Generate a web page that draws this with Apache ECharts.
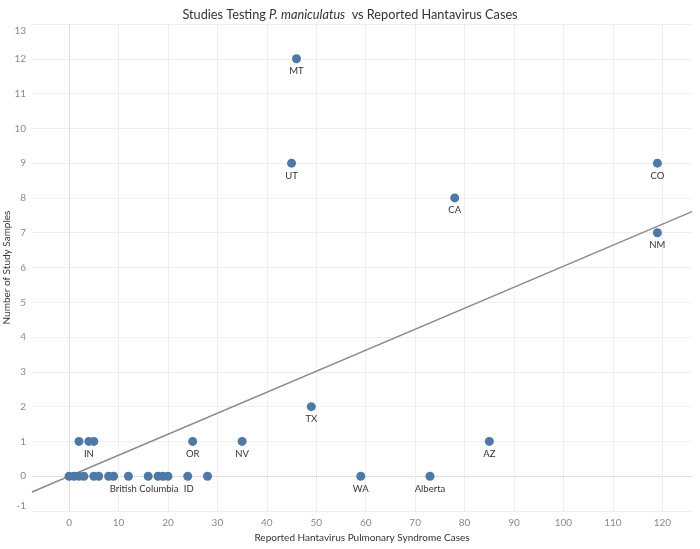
<!DOCTYPE html>
<html>
<head>
<meta charset="utf-8">
<script src="https://cdn.jsdelivr.net/npm/echarts@6/dist/echarts.min.js"></script>
<style>
html,body{margin:0;padding:0;background:#fff;}
#chart{width:700px;height:549px;}
</style>
</head>
<body>
<div id="chart"></div>
<script>
// Reported Hantavirus Pulmonary Syndrome cases (x) and number of study samples (y)
const casesX = [2, 4, 5, 25, 35, 85,
                0, 1, 2, 3, 5, 6, 8, 9, 12, 16, 18, 19, 20, 24, 28, 59, 73,
                49, 119, 78, 45, 119, 46];
const samplesY = [1, 1, 1, 1, 1, 1,
                  0, 0, 0, 0, 0, 0, 0, 0, 0, 0, 0, 0, 0, 0, 0, 0, 0,
                  2, 7, 8, 9, 9, 12];
const pointLabels = ['', 'IN', '', 'OR', 'NV', 'AZ',
                     '', '', '', '', '', '', '', '', '', 'British Columbia', '', '', '', 'ID', '', 'WA', 'Alberta',
                     'TX', 'NM', 'CA', 'UT', 'CO', 'MT'];
const xTicks = [0, 10, 20, 30, 40, 50, 60, 70, 80, 90, 100, 110, 120];
const yTicks = [-1, 0, 1, 2, 3, 4, 5, 6, 7, 8, 9, 10, 11, 12, 13];

const X_MIN = -7.5, X_MAX = 126;

// Linear trend line forced through the origin
let sxy = 0, sxx = 0;
for (let i = 0; i < casesX.length; i++) { sxy += casesX[i] * samplesY[i]; sxx += casesX[i] * casesX[i]; }
const slope = sxy / sxx;

const labelNudge = { 'British Columbia': [-4, 0], 'ID': [1, 0] };
const points = casesX.map((x, i) => ({
  value: [x, samplesY[i]],
  name: pointLabels[i],
  label: { show: pointLabels[i] !== '', offset: labelNudge[pointLabels[i]] || [0, 0] }
}));

const FONT = 'Lato';
const chart = echarts.init(document.getElementById('chart'), null, { renderer: 'canvas' });
chart.setOption({
  animation: false,
  backgroundColor: '#fff',
  textStyle: { fontFamily: FONT },
  title: {
    text: '{a|Studies Testing }{b|P. maniculatus}{a|  vs Reported Hantavirus Cases}',
    left: 'center',
    top: 3,
    textStyle: {
      fontWeight: 'normal',
      rich: {
        a: { fontFamily: FONT, fontSize: 12.7, color: '#333', fontWeight: 'normal' },
        b: { fontFamily: FONT, fontSize: 12.7, color: '#333', fontStyle: 'italic', fontWeight: 'normal' }
      }
    }
  },
  grid: { left: 32, right: 8, top: 24, bottom: 38, containLabel: false, outerBoundsMode: 'none' },
  xAxis: {
    type: 'value',
    min: X_MIN,
    max: X_MAX,
    axisLine: { show: false },
    axisTick: { show: false, customValues: xTicks },
    splitLine: { show: true, lineStyle: { color: '#efefef', width: 1 } },
    axisLabel: { customValues: xTicks, color: '#8a8a8a', fontSize: 10, margin: 7, fontFamily: FONT },
    name: 'Reported Hantavirus Pulmonary Syndrome Cases',
    nameLocation: 'middle',
    nameGap: 22,
    nameMoveOverlap: false,
    nameTextStyle: { color: '#333', fontSize: 10, fontFamily: FONT }
  },
  yAxis: {
    type: 'value',
    min: -1,
    max: 13,
    interval: 1,
    axisLine: { show: false },
    axisTick: { show: false },
    splitLine: { show: true, lineStyle: { color: '#efefef', width: 1 } },
    axisLabel: {
      color: '#8a8a8a', fontSize: 10, margin: 6, fontFamily: FONT,
      formatter: function (v) {
        if (v === 13) return '{t|' + v + '}';
        if (v === -1) return '{m|' + v + '}';
        return String(v);
      },
      rich: {
        t: { color: '#8a8a8a', fontSize: 10, fontFamily: FONT, padding: [14, 0, 0, 0] },
        m: { color: '#8a8a8a', fontSize: 10, fontFamily: FONT, padding: [0, 0, 10, 0] }
      }
    },
    name: 'Number of Study Samples',
    nameLocation: 'middle',
    nameGap: 20,
    nameMoveOverlap: false,
    nameTextStyle: { color: '#333', fontSize: 10, fontFamily: FONT }
  },
  series: [
    {
      type: 'line',
      data: [[X_MIN, slope * X_MIN], [X_MAX, slope * X_MAX]],
      symbol: 'none',
      silent: true,
      lineStyle: { color: '#8c8c8c', width: 1.5 },
      z: 3,
      markLine: {
        silent: true,
        symbol: 'none',
        label: { show: false },
        lineStyle: { color: '#cfd3d8', type: 'dotted', width: 1 },
        data: [{ yAxis: 0 }, { xAxis: 0 }]
      }
    },
    {
      type: 'scatter',
      data: points,
      symbol: 'circle',
      symbolSize: 9,
      itemStyle: { color: '#4e79a7', opacity: 1 },
      z: 5,
      label: {
        position: 'bottom',
        distance: 3,
        color: '#333',
        fontSize: 9.5,
        fontFamily: FONT,
        formatter: function (p) { return p.name; }
      }
    }
  ]
});
</script>
</body>
</html>
